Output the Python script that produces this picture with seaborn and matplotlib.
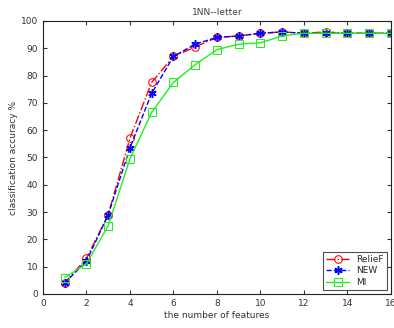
import matplotlib
matplotlib.use("Agg")
import matplotlib.pyplot as plt
import seaborn as sns
import pandas as pd

features = list(range(1, 17))
relief = [4, 13, 29, 57, 77.5, 87, 90.5, 94, 94.5, 95.5, 96, 95.5, 96, 95.5, 95.5, 95.5]
new = [4, 12, 29, 53.5, 73.5, 87, 91.5, 94, 94.5, 95.5, 96, 95.5, 95.5, 95.5, 95.5, 95.5]
mi = [6, 11, 25, 49.5, 66.5, 77.5, 84, 89.5, 91.5, 92, 94.5, 95.5, 95.5, 95.5, 95.5, 95.5]
series_names = ["RelieF", "NEW", "MI"]
xticks = list(range(0, 17, 2))
yticks = list(range(0, 101, 10))

sns.set_style("white")
plt.rcParams['font.family'] = ['DejaVu Sans']
plt.rcParams['xtick.direction'] = 'in'
plt.rcParams['ytick.direction'] = 'in'

fig = plt.figure(figsize=(3.94, 3.28), dpi=100)
ax = fig.add_axes([0.109, 0.104, 0.883, 0.832])

styles = [
    dict(color="red", linestyle="-.", marker="o", markersize=5.5, markerfacecolor="none", markeredgecolor="red"),
    dict(color="blue", linestyle="--", marker=(6, 2, 0), markersize=6, markeredgecolor="blue", markeredgewidth=1.1),
    dict(color="#22ee22", linestyle="-", marker="s", markersize=5.5, markerfacecolor="none", markeredgecolor="#22ee22"),
]
for name, vals, st in zip(series_names, [relief, new, mi], styles):
    df = pd.DataFrame({"x": features, "y": vals})
    sns.lineplot(data=df, x="x", y="y", ax=ax, label=name, linewidth=1.0, **st)

ax.set_xlim(0, 16)
ax.set_ylim(0, 100)
ax.set_xticks(xticks)
ax.set_yticks(yticks)
ax.tick_params(axis='both', labelsize=6.5, colors='#333333', length=3, top=True, right=True,
               bottom=True, left=True)
for s in ax.spines.values():
    s.set_color('#222222')
    s.set_linewidth(0.8)
ax.set_xlabel("the number of features", fontsize=6.5, color='#333333', labelpad=2)
ax.set_ylabel("classification accuracy %", fontsize=6.5, color='#333333', labelpad=2)
ax.set_title("1NN--letter", fontsize=6.5, color='#444444', pad=4)
leg = ax.legend(loc="lower right", fontsize=6.5, frameon=True, fancybox=False, edgecolor='#222222',
                handlelength=2.6, borderaxespad=0.4, labelspacing=0.3, borderpad=0.35,
                handletextpad=0.8)
leg.get_frame().set_linewidth(0.8)
fig.savefig("out.png", dpi=100)
